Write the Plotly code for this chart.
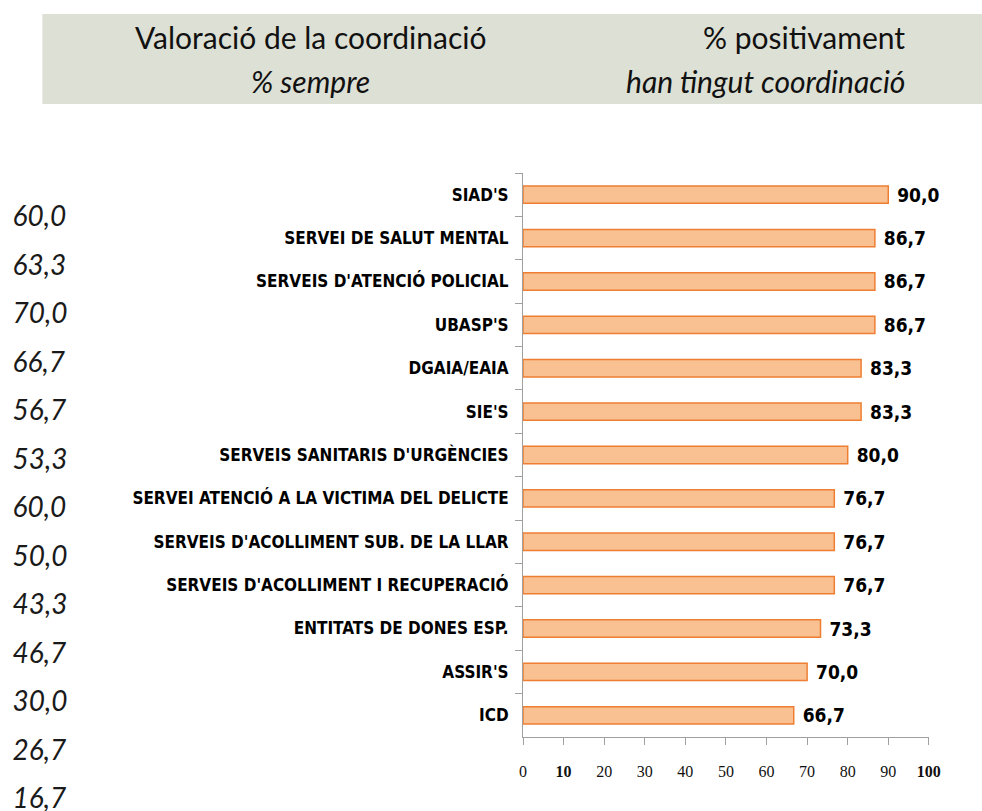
import plotly.graph_objects as go

# ---- data ----
categories = [
    "SIAD'S",
    "SERVEI DE SALUT MENTAL",
    "SERVEIS D'ATENCIÓ POLICIAL",
    "UBASP'S",
    "DGAIA/EAIA",
    "SIE'S",
    "SERVEIS SANITARIS D'URGÈNCIES",
    "SERVEI ATENCIÓ A LA VICTIMA DEL DELICTE",
    "SERVEIS D'ACOLLIMENT SUB. DE LA LLAR",
    "SERVEIS D'ACOLLIMENT I RECUPERACIÓ",
    "ENTITATS DE DONES ESP.",
    "ASSIR'S",
    "ICD",
]
positivament = [90.0, 86.7, 86.7, 86.7, 83.3, 83.3, 80.0, 76.7, 76.7, 76.7, 73.3, 70.0, 66.7]
sempre = [60.0, 63.3, 70.0, 66.7, 56.7, 53.3, 60.0, 50.0, 43.3, 46.7, 30.0, 26.7, 16.7]
x_tickvals = [0, 10, 20, 30, 40, 50, 60, 70, 80, 90, 100]
x_ticktext = ["0", "<b>10</b>", "20", "30", "40", "50", "60", "70", "80", "90", "<b>100</b>"]

header_left = ["Valoració de la coordinació", "% sempre"]
header_right = ["% positivament", "han tingut coordinació"]

def fmt(v):
    return f"{v:.1f}".replace(".", ",")

W, H = 994, 811
NARROW = "Liberation Sans Narrow, Arial Narrow, DejaVu Sans Condensed, sans-serif"
HEAD = "Lato, Open Sans, sans-serif"

fig = go.Figure()

fig.add_trace(go.Bar(
    y=categories,
    x=positivament,
    orientation="h",
    marker=dict(color="#F9C191", line=dict(color="#EE7E32", width=1.5)),
    text=["\u00a0" + fmt(v) for v in positivament],
    textposition="outside",
    textfont=dict(family=NARROW, size=19, color="#000000", weight="bold"),
    constraintext="none",
    cliponaxis=False,
    width=0.4,
    hoverinfo="skip",
    showlegend=False,
))

# "% sempre" column shown as italic numbers on the left
fig.add_trace(go.Scatter(
    x=[0] * len(sempre),
    y=list(range(len(sempre))),
    mode="text",
    text=[fmt(v) for v in sempre],
    textposition="middle right",
    textfont=dict(family=HEAD, size=28, color="#1a1a1a", style="italic"),
    xaxis="x2",
    yaxis="y2",
    cliponaxis=False,
    hoverinfo="skip",
    showlegend=False,
))

# y2 mapping: pixel = 219 + 48.5 * i
y2_top = -219 / 48.5
y2_bottom = y2_top + H / 48.5

fig.update_layout(
    width=W,
    height=H,
    margin=dict(l=0, r=0, t=0, b=0),
    paper_bgcolor="white",
    plot_bgcolor="white",
    separators=", ",
    xaxis=dict(
        domain=[527.5 / W, 940 / W],
        range=[0, 100],
        tickvals=x_tickvals,
        ticktext=x_ticktext,
        ticks="outside",
        ticklen=7,
        tickcolor="#A0A0A0",
        showline=True,
        linecolor="#A0A0A0",
        linewidth=1,
        showgrid=False,
        zeroline=False,
        tickfont=dict(family="Liberation Serif, Times New Roman, serif", size=16, color="#111111"),
        ticklabelstandoff=13,
        fixedrange=True,
    ),
    yaxis=dict(
        domain=[1 - 737 / H, 1 - 173 / H],
        type="category",
        categoryorder="array",
        categoryarray=categories,
        range=[12.5, -0.5],
        ticks="outside",
        tickson="boundaries",
        ticklen=7,
        tickcolor="#A0A0A0",
        showline=True,
        linecolor="#A0A0A0",
        linewidth=1,
        showgrid=False,
        zeroline=False,
        tickfont=dict(family=NARROW, size=17, color="#000000", weight="bold"),
        ticklabelstandoff=10,
        fixedrange=True,
    ),
    xaxis2=dict(
        domain=[0, 118 / W],
        range=[-0.08, 1],
        visible=False,
        anchor="y2",
        fixedrange=True,
    ),
    yaxis2=dict(
        domain=[0, 1],
        range=[y2_bottom, y2_top],
        visible=False,
        anchor="x2",
        fixedrange=True,
    ),
    shapes=[dict(
        type="rect", xref="paper", yref="paper",
        x0=39 / W, x1=1, y0=1 - 104 / H, y1=1 - 14 / H,
        fillcolor="#DDE0D4", line=dict(width=0), layer="below",
    )],
)

fig.add_annotation(x=312 / W, y=1 - 37 / H, xref="paper", yref="paper",
                   text=header_left[0], showarrow=False, xanchor="center", yanchor="middle",
                   font=dict(family=HEAD, size=30, color="#111111"))
fig.add_annotation(x=312 / W, y=1 - 81 / H, xref="paper", yref="paper",
                   text=header_left[1], showarrow=False, xanchor="center", yanchor="middle",
                   font=dict(family=HEAD, size=30, color="#111111", style="italic"))
fig.add_annotation(x=918 / W, y=1 - 37 / H, xref="paper", yref="paper",
                   text=header_right[0], showarrow=False, xanchor="right", yanchor="middle",
                   font=dict(family=HEAD, size=30, color="#111111"))
fig.add_annotation(x=918 / W, y=1 - 81 / H, xref="paper", yref="paper",
                   text=header_right[1], showarrow=False, xanchor="right", yanchor="middle",
                   font=dict(family=HEAD, size=30, color="#111111", style="italic"))

fig.write_html(
    "out.html",
    config={"displayModeBar": False},
    post_script=(
        "document.body.style.margin='0';"
        "document.body.style.overflow='hidden';"
        "document.documentElement.style.overflow='hidden';"
    ),
)
